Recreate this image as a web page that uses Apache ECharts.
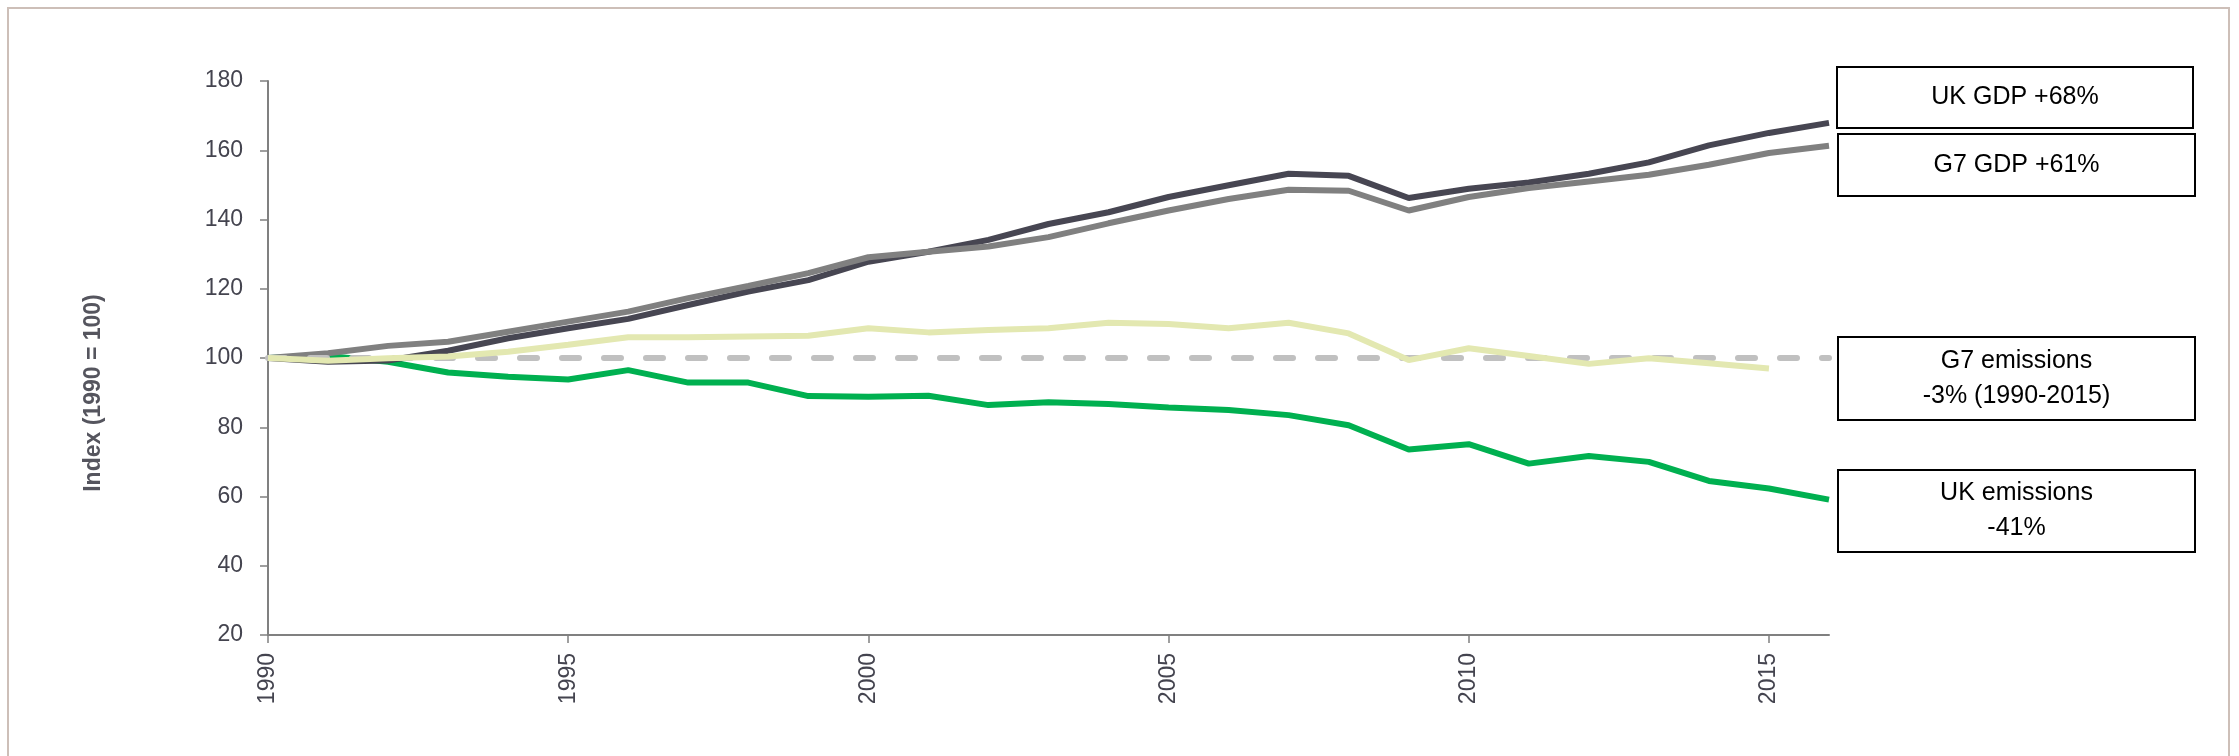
<!DOCTYPE html>
<html>
<head>
<meta charset="utf-8">
<script src="https://cdn.jsdelivr.net/npm/echarts@6/dist/echarts.min.js"></script>
<style>
	html, body { margin: 0; padding: 0; background: #fff; }
	#chart { width: 2239px; height: 756px; }
</style>
</head>
<body>
<div id="chart"></div>
<script>
	// 年份（类目轴）
	var years = ['1990','1991','1992','1993','1994','1995','1996','1997','1998','1999',
		'2000','2001','2002','2003','2004','2005','2006','2007','2008','2009',
		'2010','2011','2012','2013','2014','2015','2016'];
	// 指数 (1990 = 100)
	var ukGdp = [100, 98.9, 99.3, 102.1, 105.7, 108.6, 111.3, 115.3, 119.2, 122.5,
		127.8, 130.7, 134.1, 138.7, 142.1, 146.5, 149.9, 153.2, 152.6, 146.2,
		148.9, 150.7, 153.2, 156.5, 161.4, 165.0, 167.9];
	var g7Gdp = [100, 101.4, 103.5, 104.7, 107.6, 110.5, 113.4, 117.3, 120.8, 124.5,
		129.1, 130.7, 132.2, 134.9, 138.9, 142.6, 145.9, 148.6, 148.3, 142.6,
		146.5, 149.1, 151.0, 152.9, 155.8, 159.2, 161.3];
	var g7Emissions = [100, 99.2, 99.9, 100.4, 101.8, 103.8, 106.0, 106.0, 106.2, 106.4,
		108.6, 107.4, 108.1, 108.6, 110.2, 109.8, 108.6, 110.2, 107.1, 99.4,
		102.8, 100.6, 98.3, 99.9, 98.5, 97.0, null];
	var ukEmissions = [100, 100.6, 98.9, 95.8, 94.6, 93.8, 96.5, 92.9, 92.9, 89.0,
		88.8, 89.1, 86.4, 87.2, 86.7, 85.7, 85.0, 83.5, 80.6, 73.6,
		75.1, 69.5, 71.7, 70.0, 64.5, 62.3, 59.1];
	var baseline = 100;
	var yTicks = [20, 180, 20]; // min, max, interval
	var axisName = 'Index (1990 = 100)';
	var boxLabels = ['UK GDP +68%', 'G7 GDP +61%', 'G7 emissions\n-3% (1990-2015)', 'UK emissions\n-41%'];

	// 右侧标注框位置
	var boxes = [
		{x: 1837, y: 67, w: 356, h: 61},
		{x: 1838, y: 134, w: 357, h: 62},
		{x: 1838, y: 337, w: 357, h: 83},
		{x: 1838, y: 470, w: 357, h: 82}
	];

	var myChart = echarts.init(document.getElementById('chart'));

	var graphics = [{
		type: 'rect',
		shape: {x: 8, y: 8, width: 2221, height: 790},
		style: {fill: 'none', stroke: '#cdbfb8', lineWidth: 2},
		silent: true
	}, {
		type: 'text',
		x: 94, y: 393,
		rotation: Math.PI / 2,
		style: {
			text: axisName,
			font: 'bold 23px "Liberation Sans"',
			fill: '#55555e',
			align: 'center',
			verticalAlign: 'middle'
		}
	}];
	boxes.forEach(function (b, i) {
		graphics.push({
			type: 'rect',
			shape: {x: b.x, y: b.y, width: b.w, height: b.h},
			style: {fill: '#fff', stroke: '#000', lineWidth: 2},
			z: 10
		});
		graphics.push({
			type: 'text',
			x: b.x + b.w / 2, y: b.y + b.h / 2,
			style: {
				text: boxLabels[i],
				font: '25px "Liberation Sans"',
				fill: '#000',
				align: 'center',
				verticalAlign: 'middle',
				lineHeight: 35
			},
			z: 11
		});
	});

	function lineSeries(name, data, color, z) {
		return {
			name: name,
			type: 'line',
			data: data,
			symbol: 'none',
			z: z,
			lineStyle: {color: color, width: 6},
			silent: true
		};
	}

	var ukEmisSeries = lineSeries('UK emissions', ukEmissions, '#00b050', 2);
	// 1990 基准虚线
	ukEmisSeries.markLine = {
		silent: true,
		symbol: 'none',
		label: {show: false},
		lineStyle: {color: '#c0c0c0', width: 6, type: [17, 25], cap: 'round'},
		data: [{yAxis: baseline}]
	};

	myChart.setOption({
		animation: false,
		backgroundColor: '#fff',
		grid: {left: 268, right: 410, top: 81, bottom: 121},
		xAxis: {
			type: 'category',
			data: years,
			boundaryGap: false,
			axisLine: {lineStyle: {color: '#808080', width: 2}},
			axisTick: {show: true, interval: 4, length: 8, lineStyle: {color: '#808080', width: 1.5}},
			axisLabel: {
				interval: 4,
				rotate: 90,
				margin: 18,
				color: '#44444f',
				fontFamily: 'Liberation Sans',
				fontSize: 23
			}
		},
		yAxis: {
			type: 'value',
			min: yTicks[0],
			max: yTicks[1],
			interval: yTicks[2],
			splitLine: {show: false},
			axisLine: {show: true, lineStyle: {color: '#808080', width: 2}},
			axisTick: {show: true, length: 8, lineStyle: {color: '#808080', width: 1.5}},
			axisLabel: {
				margin: 25,
				color: '#44444f',
				fontFamily: 'Liberation Sans',
				fontSize: 23
			}
		},
		series: [
			ukEmisSeries,
			lineSeries('UK GDP', ukGdp, '#474652', 3),
			lineSeries('G7 GDP', g7Gdp, '#808080', 4),
			lineSeries('G7 emissions', g7Emissions, '#e3e8b1', 5)
		],
		graphic: graphics
	});

	window.addEventListener('resize', function () {
		myChart.resize();
	});
</script>
</body>
</html>
